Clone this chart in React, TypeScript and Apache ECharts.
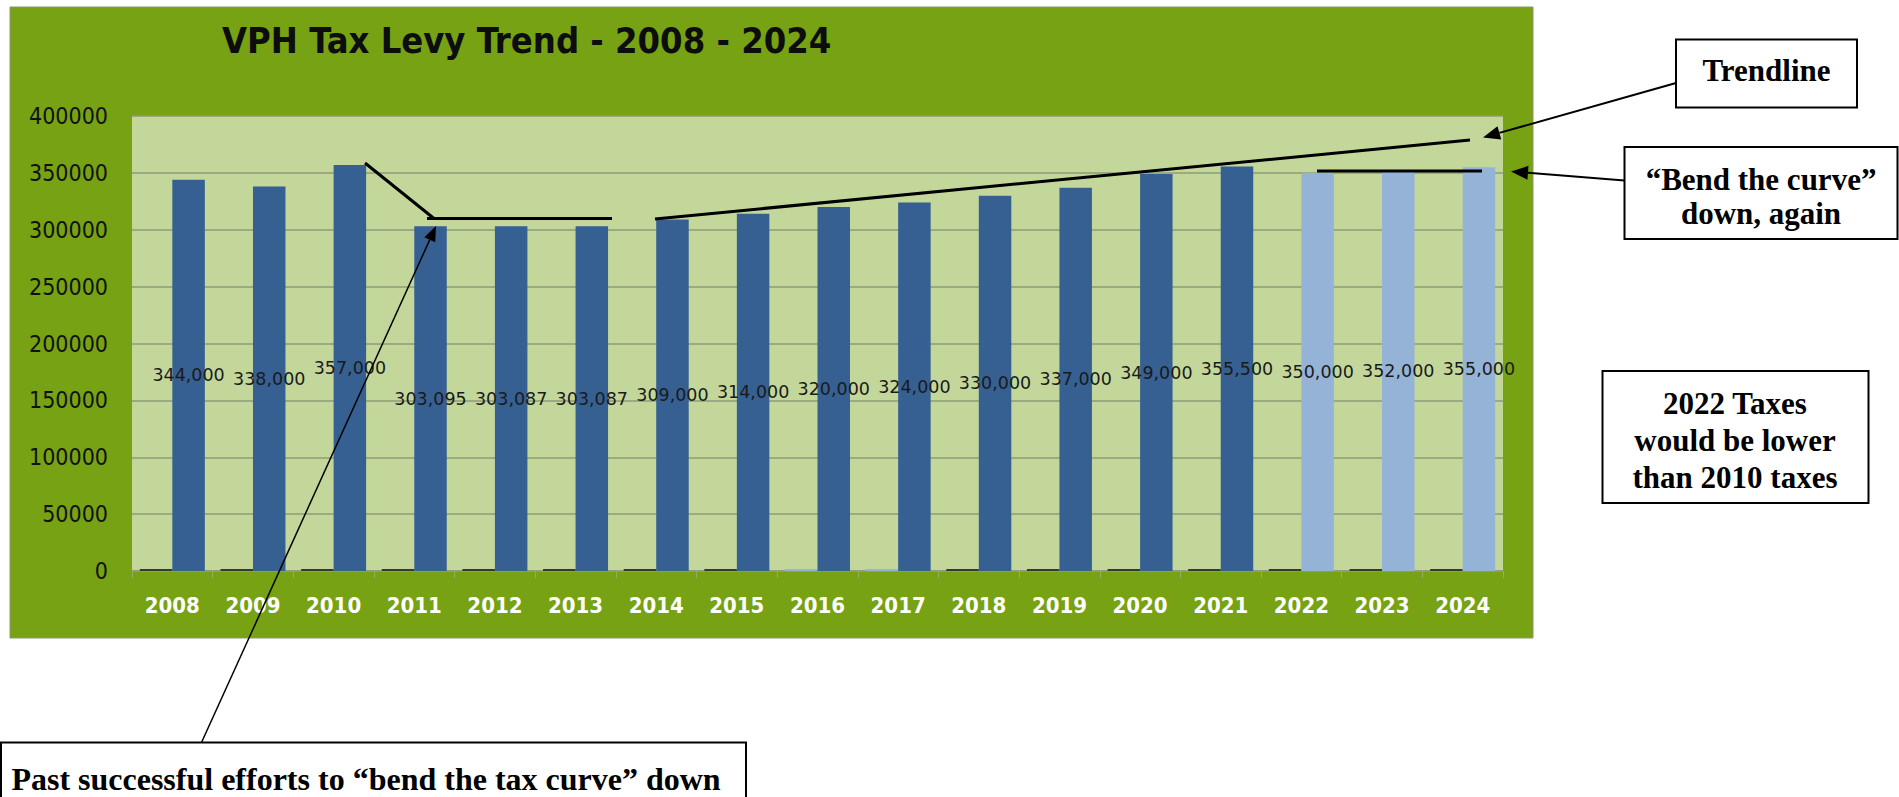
import React, { useEffect, useRef } from "react";
import * as echarts from "echarts";

// ---- data ----
const years = ["2008", "2009", "2010", "2011", "2012", "2013", "2014", "2015", "2016", "2017", "2018", "2019", "2020", "2021", "2022", "2023", "2024"];
const levy = [344000, 338000, 357000, 303095, 303087, 303087, 309000, 314000, 320000, 324000, 330000, 337000, 349000, 355500, 350000, 352000, 355000];
const baseSeries = [1800, 1800, 1800, 1800, 1800, 1800, 1800, 1800, 1800, 1800, 1800, 1800, 1800, 1800, 1800, 1800, 1800];
const projectedYears = ["2022", "2023", "2024"];
const lightBaseYears = ["2016", "2017"];
const yMin = 0;
const yMax = 400000;
const yStep = 50000;
const titleText = "VPH Tax Levy Trend - 2008 - 2024";
const noteTrend = "Trendline";
const noteBend = "\u201cBend the curve\u201d\ndown, again";
const noteLower = "2022 Taxes\nwould be lower\nthan 2010 taxes";
const notePast = "Past successful efforts to \u201cbend the tax curve\u201d down";

const DARK = "#366092";
const LIGHT = "#95B3D7";
const BASE_DARK = "#303C2E";
const PANEL = "#76A213";
const PLOT = "#C4D79B";
const GRID = "#8E9B78";
const NARROW = "'Liberation Sans Narrow', 'DejaVu Sans Condensed', 'Open Sans', sans-serif";
const SERIF = "'Liberation Serif', 'DejaVu Serif', serif";

function arrow(x1: number, y1: number, x2: number, y2: number, lw: number, len: number, hw: number) {
  const dx = x2 - x1, dy = y2 - y1;
  const L = Math.hypot(dx, dy);
  const ux = dx / L, uy = dy / L;
  const bx = x2 - ux * len, by = y2 - uy * len;
  const px = -uy, py = ux;
  return [
    { type: "line", z: 100, shape: { x1, y1, x2: bx, y2: by }, style: { stroke: "#000", lineWidth: lw } },
    {
      type: "polygon", z: 100,
      shape: { points: [[x2, y2], [bx + px * hw, by + py * hw], [bx - px * hw, by - py * hw]] },
      style: { fill: "#000" },
    },
  ];
}

function seg(x1: number, y1: number, x2: number, y2: number, lw: number) {
  return { type: "line", z: 100, shape: { x1, y1, x2, y2 }, style: { stroke: "#000", lineWidth: lw } };
}

function box(x: number, y: number, w: number, h: number) {
  return { type: "rect", z: 90, shape: { x, y, width: w, height: h }, style: { fill: "#fff", stroke: "#000", lineWidth: 2 } };
}

function note(x: number, y: number, text: string, lineHeight: number, fontSize = 31) {
  return {
    type: "text", z: 101, x, y,
    style: {
      text, fill: "#000", fontSize, fontWeight: "bold", fontFamily: SERIF,
      align: "center", verticalAlign: "middle", lineHeight,
    },
  };
}

export default function App() {
  const ref = useRef<HTMLDivElement>(null);

  useEffect(() => {
    if (!ref.current) return;
    const chart = echarts.init(ref.current, undefined, { renderer: "svg" });

    const baseData = years.map((y, i) => ({
      value: baseSeries[i],
      itemStyle: { color: lightBaseYears.includes(y) ? LIGHT : BASE_DARK },
    }));
    const levyData = years.map((y, i) => ({
      value: levy[i],
      itemStyle: { color: projectedYears.includes(y) ? LIGHT : DARK },
    }));

    const graphics: any[] = [
      { type: "rect", z: -10, shape: { x: 10, y: 7, width: 1523, height: 631 }, style: { fill: PANEL, stroke: "#8A9A6E", lineWidth: 1 } },
      // past bend
      seg(365, 163, 434, 218.5, 3),
      seg(427, 218.5, 612, 218.5, 3),
      // trendline
      seg(655, 219, 1470, 140, 3),
      // bend again
      seg(1317, 171, 1482, 171, 3),
      ...arrow(1676, 83, 1483, 137.5, 2, 17, 7),
      ...arrow(1624.5, 180.5, 1511, 171.5, 2, 17, 7),
      ...arrow(201.5, 742.5, 436, 226, 1.5, 15, 6),
      box(1676, 39.5, 181, 68),
      note(1766.5, 70, noteTrend, 34),
      box(1624.5, 147, 273, 92),
      note(1761, 196, noteBend, 34),
      box(1602.5, 371, 266, 132),
      note(1735, 440, noteLower, 37),
      box(1, 742.5, 745, 80),
      note(366, 779, notePast, 32, 32),
    ];

    chart.setOption({
      animation: false,
      backgroundColor: "#fff",
      title: {
        text: titleText,
        left: 222,
        top: 22,
        padding: 0,
        textStyle: { fontSize: 36, fontWeight: "bold", color: "#0d0d0d", fontFamily: NARROW },
      },
      grid: { left: 132, right: 396, top: 116, bottom: 226, show: true, backgroundColor: PLOT, borderWidth: 0 },
      xAxis: {
        type: "category",
        data: years,
        axisLine: { show: true, lineStyle: { color: GRID, width: 1.5 } },
        axisTick: { show: true, length: 7, lineStyle: { color: "#93AD62" } },
        axisLabel: { color: "#fff", fontWeight: "bold", fontSize: 22, fontFamily: NARROW, margin: 23 },
      },
      yAxis: {
        type: "value",
        min: yMin,
        max: yMax,
        interval: yStep,
        axisLine: { show: false },
        axisTick: { show: false },
        axisLabel: { color: "#111", fontSize: 23, fontFamily: NARROW, margin: 24, formatter: (v: number) => String(v) },
        splitLine: { lineStyle: { color: GRID, width: 1.5 } },
      },
      series: [
        { type: "bar", name: "base", data: baseData, barWidth: 32.5, barGap: "0%" },
        {
          type: "bar",
          name: "Tax Levy",
          data: levyData,
          barWidth: 32.5,
          barGap: "0%",
          label: {
            show: true,
            position: "inside",
            formatter: (p: any) => Number(p.value).toLocaleString("en-US"),
            color: "#1a1a1a",
            fontSize: 17.5,
            fontFamily: "'DejaVu Sans', sans-serif",
            textBorderWidth: 0,
          },
        },
      ],
      graphic: graphics,
    });

    return () => chart.dispose();
  }, []);

  return <div ref={ref} style={{ position: "absolute", left: 0, top: 0, width: 1899, height: 797 }} />;
}
